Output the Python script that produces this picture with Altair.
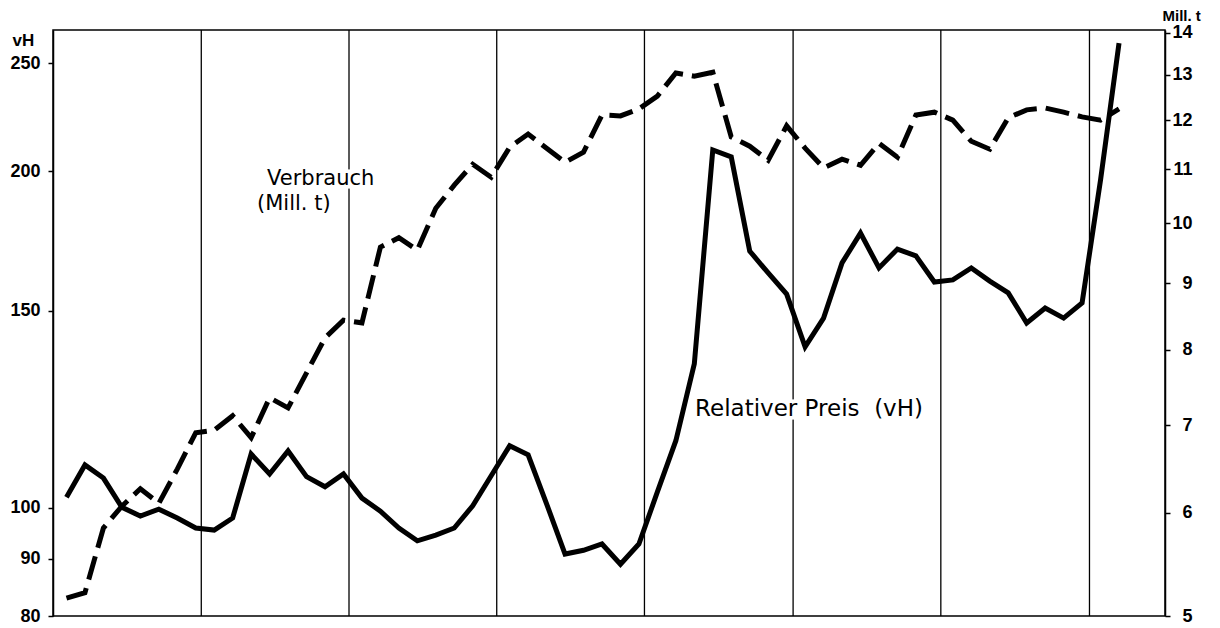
import altair as alt
import pandas as pd

# quarterly index (8 quarters between vertical grid lines)
quarter = list(range(58))

# Relativer Preis (vH) - left log axis
preis = [102.2, 109.2, 106.3, 100.1, 98.3, 99.7, 97.9, 95.9, 95.5, 97.9,
         111.7, 107.2, 112.4, 106.6, 104.4, 107.2, 102.0, 99.3, 95.9, 93.4,
         94.5, 95.9, 100.4, 106.8, 113.6, 111.5, 100.8, 90.9, 91.6, 92.8,
         89.0, 92.8, 103.3, 114.8, 134.5, 209.0, 206.0, 169.7, 162.2, 155.3,
         139.3, 147.8, 165.6, 176.1, 163.9, 170.4, 168.0, 159.2, 159.9, 163.9,
         159.5, 155.7, 146.3, 150.9, 147.8, 152.5, 196.5, 260.5]

# Verbrauch (Mill. t) - right log axis
verbrauch = [5.16, 5.21, 5.84, 6.07, 6.26, 6.10, 6.48, 6.91, 6.94, 7.12,
             6.85, 7.35, 7.22, 7.68, 8.17, 8.43, 8.39, 9.59, 9.75, 9.54,
             10.27, 10.70, 11.10, 10.85, 11.44, 11.71, 11.42, 11.14, 11.34, 12.11,
             12.09, 12.24, 12.52, 13.04, 12.97, 13.06, 11.65, 11.46, 11.18, 11.88,
             11.42, 11.03, 11.20, 11.08, 11.52, 11.24, 12.11, 12.17, 12.00, 11.56,
             11.40, 12.05, 12.22, 12.26, 12.17, 12.07, 12.00, 12.24]

grid_x = [7.3, 15.3, 23.3, 31.3, 39.35, 47.35, 55.4]

left_ticks = [80, 90, 100, 150, 200, 250]
right_ticks = [5, 6, 7, 8, 9, 10, 11, 12, 13, 14]

ann_text = ["Verbrauch", "(Mill. t)", "Relativer Preis\u00a0 (vH)"]
ann_x = [10.86, 10.32, 34.04]
ann_y = [194.5, 184.6, 120.8]
ann_size = [21, 21, 23]

df = pd.DataFrame({"q": quarter, "preis": preis, "verbrauch": verbrauch})
grid_df = pd.DataFrame({"g": grid_x})
ann_df = pd.DataFrame({"tx": ann_x, "ty": ann_y, "label": ann_text, "size": ann_size})

FONT = "DejaVu Sans"
LFONT = "Liberation Sans"
xscale = alt.Scale(domain=[-0.73, 59.49], nice=False, zero=False)
yleft = alt.Scale(type="log", domain=[80, 267.6], nice=False)
yright = alt.Scale(type="log", domain=[5, 14.07], nice=False)

left_axis = alt.Axis(values=left_ticks, format="d", title="vH",
                     titleAngle=0, titleAlign="left", titleX=-41, titleY=15,
                     titleBaseline="alphabetic", titleFontSize=17,
                     titleFont=LFONT, titleFontWeight="bold",
                     labelPadding=8, labelFlush=False, labelOverlap=False,
                     orient="left")

grid = alt.Chart(grid_df).mark_rule(color="black", strokeWidth=1.3).encode(
    x=alt.X("g:Q", scale=xscale, axis=None)
)

halo = alt.Chart(ann_df).mark_text(
    font=FONT, align="left", baseline="alphabetic", color="white",
    stroke="white", strokeWidth=7
).encode(
    x=alt.X("tx:Q", scale=xscale, axis=None),
    y=alt.Y("ty:Q", scale=yleft, axis=left_axis),
    text="label:N",
    size=alt.Size("size:Q", scale=None, legend=None),
)

texts = alt.Chart(ann_df).mark_text(
    font=FONT, align="left", baseline="alphabetic", color="black"
).encode(
    x=alt.X("tx:Q", scale=xscale, axis=None),
    y=alt.Y("ty:Q", scale=yleft, axis=left_axis),
    text="label:N",
    size=alt.Size("size:Q", scale=None, legend=None),
)

preis_line = alt.Chart(df).mark_line(color="black", strokeWidth=5).encode(
    x=alt.X("q:Q", scale=xscale, axis=None),
    y=alt.Y("preis:Q", scale=yleft, axis=left_axis),
)

left_layer = alt.layer(grid, halo, texts, preis_line)

verbrauch_line = alt.Chart(df).mark_line(
    color="black", strokeWidth=5, strokeDash=[24, 9]
).encode(
    x=alt.X("q:Q", scale=xscale, axis=None),
    y=alt.Y("verbrauch:Q", scale=yright,
            axis=alt.Axis(values=right_ticks, format="d", title="Mill. t",
                          titleAngle=0, titleAlign="left", titleX=-3, titleY=-10,
                          titleBaseline="alphabetic", titleFontSize=15,
                          titleFont=LFONT, titleFontWeight="bold",
                          labelAlign="right", labelPadding=22,
                          labelFlush=False, labelOverlap=False, orient="right")),
)

chart = alt.layer(left_layer, verbrauch_line).resolve_scale(
    y="independent"
).properties(
    width=1112, height=586,
    autosize=alt.AutoSizeParams(type="none"),
    padding={"left": 45, "top": 22, "right": 47, "bottom": 8},
).configure_view(
    stroke="black", strokeWidth=1.5
).configure_axis(
    domainColor="black", domainWidth=1.5, tickColor="black", tickWidth=1.5,
    tickSize=5, labelColor="black", labelFont=LFONT, labelFontSize=18,
    labelFontWeight="bold", titleColor="black", grid=False
)

chart.save("out.html", embed_options={"renderer": "svg", "actions": False})
